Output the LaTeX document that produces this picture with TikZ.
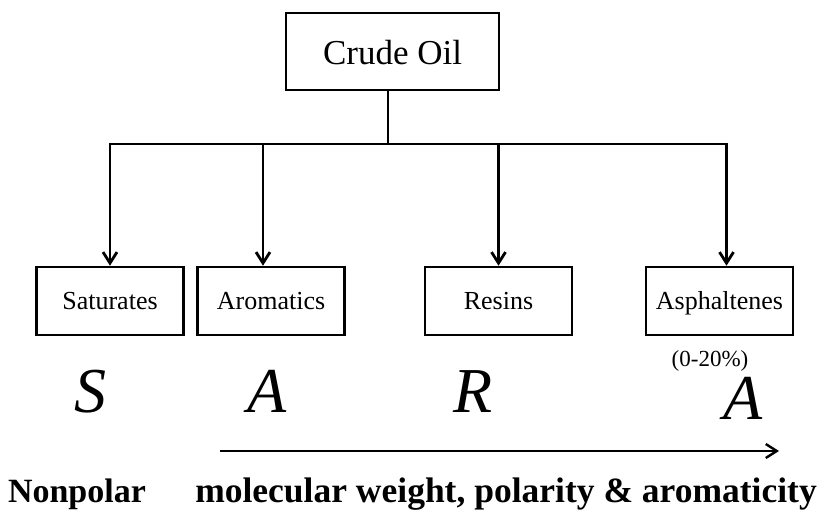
\documentclass[tikz,border=0pt]{standalone}
\usepackage{fontspec}
\setmainfont{Liberation Serif}
\usepackage{tikz}
\usetikzlibrary{arrows.meta,positioning}
\tikzstyle{arrow} = [line width=2.8pt,-{Straight Barb[length=11pt,width=14pt]}]
\tikzstyle{fraction} = [rectangle, draw, line width=2.6pt, minimum width=147pt, minimum height=68pt, text centered, text height=20pt, text depth=3pt, font=\fontsize{26}{30}\selectfont]
\tikzstyle{letter} = [anchor=base, font=\fontsize{64}{70}\selectfont\itshape]

\begin{document}
\begin{tikzpicture}[x=1pt,y=-1pt]
\useasboundingbox (0,0) rectangle (834,511);
% Crude oil and its four fractions
\node (crude) [fraction, minimum width=213pt, minimum height=77pt, text height=30pt, text depth=4pt, font=\fontsize{35}{40}\selectfont] at (392.5,51.5) {Crude Oil};
\node (sat) [fraction] at (110,301) {Saturates};
\node (aro) [fraction, right of=sat, node distance=161pt] {Aromatics};
\node (res) [fraction, right of=aro, node distance=227.5pt] {Resins};
\node (asp) [fraction, right of=res, node distance=221pt] {Asphaltenes};

% Branches
\coordinate (bar) at (388,144);
\draw[line width=2.8pt] (crude.south -| bar) -- (bar);
\draw[arrow] (bar) -| (sat.north);
\draw[arrow] (bar) -| ([xshift=-8pt]aro.north);
\draw[arrow] (bar) -| (res.north);
\draw[arrow] (bar) -| ([xshift=7pt]asp.north);

% SARA letters
\node (s1) [letter] at (90,412) {S};
\node (a1) [letter] at (267,412) {A};
\node (r1) [letter] at (473,412) {R};
\node (a2) [letter] at (743,419) {A};
\node (pct) [anchor=base, font=\fontsize{23}{26}\selectfont] at (710,366) {(0-20\%)};

% Trend
\coordinate (lo) at (220,451);
\coordinate (hi) at (779,451);
\draw[line width=2.4pt, -{Straight Barb[length=11pt,width=14pt]}] (lo) -- (hi);
\node (np) [anchor=base, font=\fontsize{34}{40}\selectfont\bfseries] at (77,502) {Nonpolar};
\node (mw) [anchor=base, font=\fontsize{35.5}{40}\selectfont\bfseries] at (506,502) {molecular weight, polarity \& aromaticity};
\end{tikzpicture}
\end{document}
